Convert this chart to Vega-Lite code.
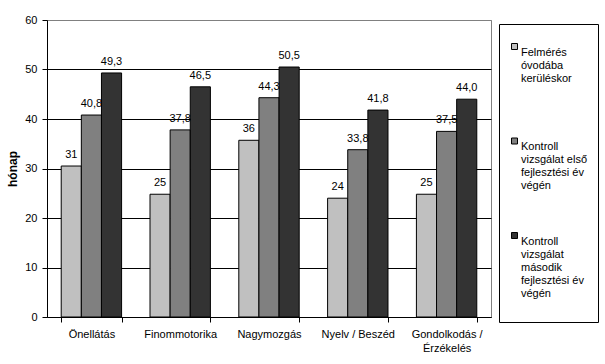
{
  "$schema": "https://vega.github.io/schema/vega-lite/v6.json",
  "width": 444,
  "height": 297,
  "autosize": {"type": "none"},
  "padding": {"left": 47, "top": 20, "right": 114, "bottom": 47},
  "background": "white",
  "config": {
    "font": "Liberation Sans",
    "view": {"stroke": "#808080", "strokeWidth": 1}
  },
  "data": {
    "values": [
      {"area": "Önellátás", "series": "Felmérés óvodába kerüléskor", "value": 30.5, "label": "31"},
      {"area": "Önellátás", "series": "Kontroll vizsgálat első fejlesztési év végén", "value": 40.8, "label": "40,8"},
      {"area": "Önellátás", "series": "Kontroll vizsgálat második fejlesztési év végén", "value": 49.3, "label": "49,3"},
      {"area": "Finommotorika", "series": "Felmérés óvodába kerüléskor", "value": 24.8, "label": "25"},
      {"area": "Finommotorika", "series": "Kontroll vizsgálat első fejlesztési év végén", "value": 37.8, "label": "37,8"},
      {"area": "Finommotorika", "series": "Kontroll vizsgálat második fejlesztési év végén", "value": 46.5, "label": "46,5"},
      {"area": "Nagymozgás", "series": "Felmérés óvodába kerüléskor", "value": 35.7, "label": "36"},
      {"area": "Nagymozgás", "series": "Kontroll vizsgálat első fejlesztési év végén", "value": 44.3, "label": "44,3"},
      {"area": "Nagymozgás", "series": "Kontroll vizsgálat második fejlesztési év végén", "value": 50.5, "label": "50,5"},
      {"area": "Nyelv / Beszéd", "series": "Felmérés óvodába kerüléskor", "value": 24.0, "label": "24"},
      {"area": "Nyelv / Beszéd", "series": "Kontroll vizsgálat első fejlesztési év végén", "value": 33.8, "label": "33,8"},
      {"area": "Nyelv / Beszéd", "series": "Kontroll vizsgálat második fejlesztési év végén", "value": 41.8, "label": "41,8"},
      {"area": "Gondolkodás / Érzékelés", "series": "Felmérés óvodába kerüléskor", "value": 24.8, "label": "25"},
      {"area": "Gondolkodás / Érzékelés", "series": "Kontroll vizsgálat első fejlesztési év végén", "value": 37.5, "label": "37,5"},
      {"area": "Gondolkodás / Érzékelés", "series": "Kontroll vizsgálat második fejlesztési év végén", "value": 44.0, "label": "44,0"}
    ]
  },
  "encoding": {
    "x": {
      "field": "area",
      "type": "nominal",
      "sort": null,
      "scale": {"paddingInner": 0.32, "paddingOuter": 0.16},
      "axis": {
        "title": null,
        "labelAngle": 0,
        "tickBand": "extent",
        "domainColor": "black",
        "tickColor": "black",
        "tickSize": 5,
        "labelPadding": 6,
        "labelFontSize": 11,
        "labelColor": "black",
        "labelBaseline": "top",
        "labelLineHeight": 14,
        "labelExpr": "datum.label == 'Gondolkodás / Érzékelés' ? ['Gondolkodás /', 'Érzékelés'] : datum.label"
      }
    },
    "xOffset": {
      "field": "series",
      "type": "nominal",
      "sort": ["Felmérés óvodába kerüléskor", "Kontroll vizsgálat első fejlesztési év végén", "Kontroll vizsgálat második fejlesztési év végén"],
      "scale": {"paddingInner": 0, "paddingOuter": 0}
    },
    "y": {
      "field": "value",
      "type": "quantitative",
      "scale": {"domain": [0, 60]},
      "axis": {
        "values": [0, 10, 20, 30, 40, 50, 60],
        "grid": true,
        "gridColor": {"condition": {"test": "datum.value == 60", "value": "#808080"}, "value": "black"},
        "gridOpacity": 1,
        "domainColor": "black",
        "tickColor": "black",
        "tickSize": 5,
        "labelPadding": 5,
        "labelFontSize": 11,
        "labelColor": "black",
        "title": "hónap",
        "titleFontWeight": "bold",
        "titleFontSize": 12,
        "titleColor": "black",
        "titlePadding": 5
      }
    }
  },
  "layer": [
    {
      "mark": {"type": "bar", "stroke": "black", "strokeWidth": 1},
      "encoding": {
        "color": {
          "field": "series",
          "type": "nominal",
          "sort": ["Felmérés óvodába kerüléskor", "Kontroll vizsgálat első fejlesztési év végén", "Kontroll vizsgálat második fejlesztési év végén"],
          "scale": {"range": ["#c0c0c0", "#808080", "#333333"]},
          "legend": {
            "orient": "none",
            "legendX": 452,
            "legendY": 4,
            "title": " ",
            "titleFontSize": 1,
            "titlePadding": 6,
            "strokeColor": "black",
            "fillColor": "white",
            "padding": 10,
            "symbolType": "square",
            "symbolSize": 36,
            "symbolStrokeColor": "black",
            "symbolStrokeWidth": 1,
            "symbolOpacity": 1,
            "labelFontSize": 11,
            "labelColor": "black",
            "labelLineHeight": 14.5,
            "labelBaseline": "top",
            "labelOffset": 1,
            "labelLimit": 200,
            "rowPadding": 25.5,
            "labelExpr": "datum.label == 'Felmérés óvodába kerüléskor' ? ['Felmérés', 'óvodába', 'kerüléskor', '', ''] : datum.label == 'Kontroll vizsgálat első fejlesztési év végén' ? ['Kontroll', 'vizsgálat első', 'fejlesztési év', 'végén', ''] : ['Kontroll', 'vizsgálat', 'második', 'fejlesztési év', 'végén', '']"
          }
        }
      }
    },
    {
      "mark": {"type": "text", "baseline": "alphabetic", "dy": -8, "fontSize": 11, "color": "black"},
      "encoding": {"text": {"field": "label"}}
    }
  ]
}
